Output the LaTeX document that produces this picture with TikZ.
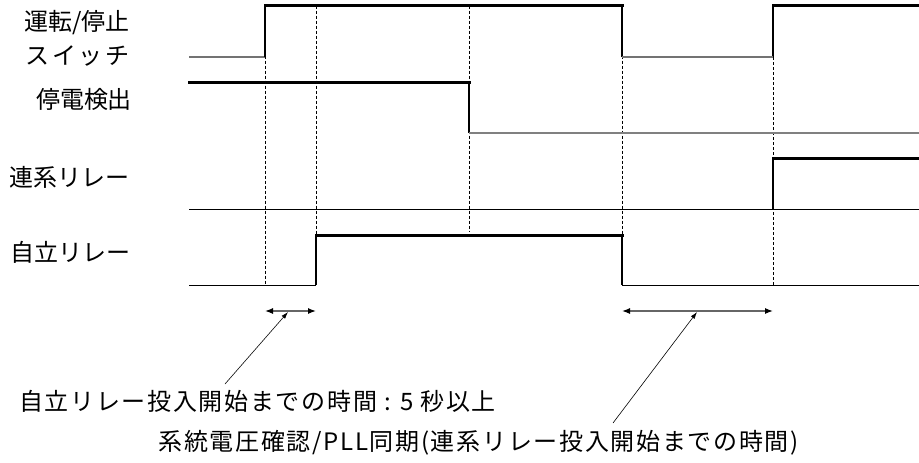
\documentclass[tikz,border=0pt]{standalone}
\usepackage{fontspec}
\newfontfamily\jp{Noto Sans CJK JP}
\newfontfamily\jpw[LetterSpace=7]{Noto Sans CJK JP}
\newfontfamily\jps[LetterSpace=12]{Noto Sans CJK JP}
\usetikzlibrary{arrows.meta}
\begin{document}
\begin{tikzpicture}[x=1pt,y=-1pt,
  thinsig/.style={line width=1pt,black},
  graysig/.style={line width=1.1pt,black!55},
  thicksig/.style={line width=3pt,black,line cap=rect},
  edge/.style={line width=1.1pt,black},
  guide/.style={line width=0.7pt,black,dash pattern=on 3pt off 2pt},
  lbl/.style={font=\jp\fontsize{24}{28}\selectfont,inner sep=0pt},
  note/.style={font=\jpw\fontsize{24}{28}\selectfont,inner sep=0pt},
  span/.style={line width=1.3pt,black!60,{Latex[length=8pt,width=6pt,black]}-{Latex[length=8pt,width=6pt,black]}},
  leader/.style={line width=0.6pt,-{Latex[length=7pt,width=4.5pt]}}]
\useasboundingbox (0,0) rectangle (919,463);
% labels
\node[lbl] (l1) at (77,23) {運転/停止};
\node[lbl,font=\jps\fontsize{24}{28}\selectfont] (l2) at (77.5,56) {スイッチ};
\node[lbl] (l3) at (84,99) {停電検出};
\node[lbl] (l4) at (69.5,177) {連系リレー};
\node[lbl] (l5) at (70.5,252) {自立リレー};
% guides
\draw[guide] (265,5.7) -- (265,285);
\draw[guide] (316,5.7) -- (316,235);
\draw[guide] (469,5.7) -- (469,231);
\draw[guide] (622,5.7) -- (622,285);
\draw[guide] (773,57) -- (773,285);
% switch
\draw[graysig] (189,57) -- (265,57);
\draw[edge] (265,57) -- (265,5.7) (622,5.7) -- (622,57) (773,57) -- (773,5.7);
\draw[thicksig] (265,5.7) -- (622,5.7);
\draw[graysig] (622,57) -- (773,57);
\draw[thicksig] (773,5.7) -- (919,5.7);
% power failure detection
\draw[thicksig] (189,82) -- (469,82);
\draw[edge] (469,82) -- (469,133);
\draw[graysig,black!50] (469,133) -- (919,133);
% grid relay
\draw[thinsig] (189,209) -- (919,209);
\draw[edge] (773,209) -- (773,158);
\draw[thicksig] (773,158) -- (919,158);
% independent relay
\draw[thinsig] (189,285) -- (316,285);
\draw[edge] (316,285) -- (316,235) (622,235) -- (622,285);
\draw[thicksig] (316,235) -- (622,235);
\draw[thinsig] (622,285) -- (919,285);
% spans
\coordinate (a1) at (265,311);
\coordinate (a2) at (316,311);
\coordinate (b1) at (622,311);
\coordinate (b2) at (773,311);
\draw[span] (a1) -- (a2);
\draw[span] (b1) -- (b2);
\coordinate (p1) at (288,312);
\coordinate (p2) at (697,312);
% notes
\node[note,anchor=west] (n1) at (19,401) {自立リレー投入開始までの時間 : 5 秒以上};
\node[note] (n2) at (478.5,443) {系統電圧確認/PLL同期(連系リレー投入開始までの時間)};
\coordinate (q1) at (225,384);
\coordinate (q2) at (613,423);
\draw[leader] (q1) -- (p1);
\draw[leader] (q2) -- (p2);
\end{tikzpicture}
\end{document}
